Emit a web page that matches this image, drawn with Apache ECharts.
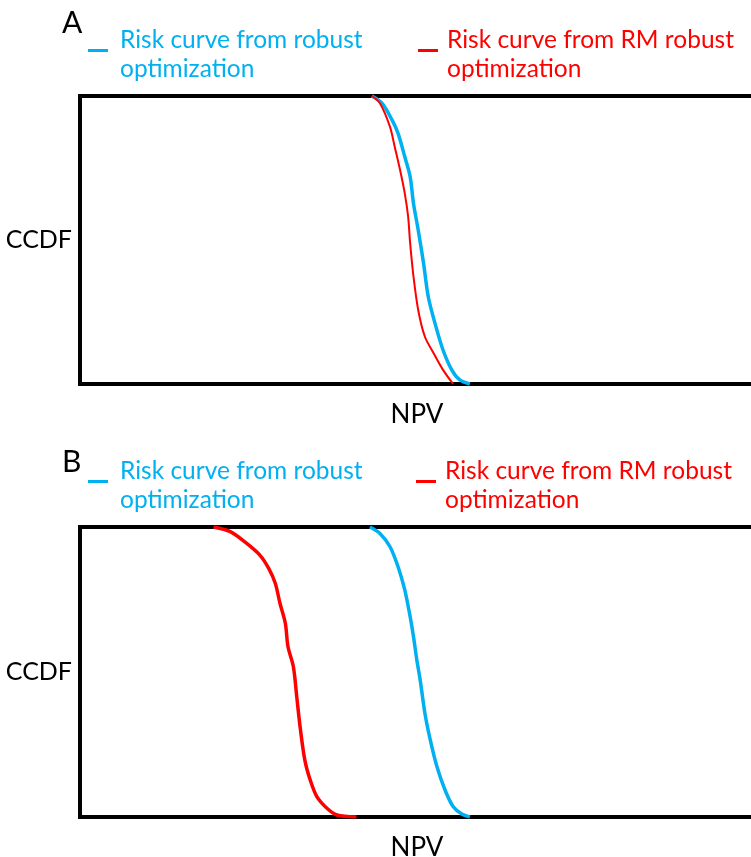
<!DOCTYPE html>
<html>
<head>
<meta charset="utf-8">
<script src="https://cdn.jsdelivr.net/npm/echarts@6/dist/echarts.min.js"></script>
<style>html,body{margin:0;padding:0;background:#fff;}#c{width:751px;height:857px;}</style>
</head>
<body>
<div id="c"></div>
<script>
// NPV in arbitrary units (0-100 across the plotted width), CCDF in [0,1]
const panelLabels = ['A', 'B'];
const seriesNames = ['Risk curve from robust optimization', 'Risk curve from RM robust optimization'];
const axisNames = { x: 'NPV', y: 'CCDF' };

// Panel A
const aRobustNPV  = [43.5, 45.0, 46.5, 47.4, 48.4, 49.2, 49.7, 50.4, 51.2, 51.9, 52.9, 54.1, 55.4, 56.6, 58.1];
const aRobustCCDF = [1.0, 0.975, 0.917, 0.870, 0.789, 0.720, 0.627, 0.535, 0.419, 0.303, 0.211, 0.118, 0.049, 0.014, 0.0];
const aRMNPV      = [43.5, 44.7, 46.2, 46.9, 47.7, 48.4, 48.9, 49.2, 49.7, 50.4, 51.4, 52.7, 54.1, 55.6];
const aRMCCDF     = [1.0, 0.975, 0.893, 0.824, 0.743, 0.662, 0.581, 0.489, 0.373, 0.257, 0.164, 0.107, 0.049, 0.0];

// Panel B
const bRobustNPV  = [43.2, 44.7, 46.2, 47.4, 48.4, 49.2, 49.7, 50.2, 50.7, 51.4, 52.2, 53.2, 54.4, 55.6, 56.9, 58.1];
const bRobustCCDF = [1.0, 0.978, 0.932, 0.863, 0.783, 0.691, 0.622, 0.541, 0.472, 0.358, 0.266, 0.173, 0.093, 0.036, 0.010, 0.0];
const bRMNPV      = [19.9, 22.4, 24.8, 26.8, 28.1, 29.1, 29.8, 30.6, 31.0, 31.8, 32.3, 32.8, 33.5, 34.3, 35.3, 36.8, 38.3, 41.2];
const bRMCCDF     = [1.0, 0.984, 0.944, 0.903, 0.858, 0.806, 0.737, 0.668, 0.587, 0.518, 0.415, 0.311, 0.197, 0.128, 0.070, 0.030, 0.007, 0.0];

const BLUE = '#00B0F0', RED = '#FF0000';
const FONT = 'Lato';

function pairs(xs, ys) { return xs.map((x, i) => [x, ys[i]]); }

const grids = [
  { left: 80, width: 700, top: 96, height: 288 },
  { left: 80, width: 700, top: 527, height: 290 }
].map(g => Object.assign(g, { show: true, borderColor: '#000', borderWidth: 4,
  backgroundColor: 'transparent', containLabel: false, outerBoundsMode: 'none' }));

const xAxes = [0, 1].map(i => ({
  gridIndex: i, type: 'value', min: 0, max: 104.32,
  axisLine: { show: false }, axisTick: { show: false }, axisLabel: { show: false }, splitLine: { show: false },
  name: axisNames.x, nameLocation: 'middle', nameGap: 18,
  nameTextStyle: { fontFamily: FONT, fontSize: 26, color: '#000', padding: [0, 26, 0, 0] }
}));
const yAxes = [0, 1].map(i => ({
  gridIndex: i, type: 'value', min: 0, max: 1,
  axisLine: { show: false }, axisTick: { show: false }, axisLabel: { show: false }, splitLine: { show: false },
  name: axisNames.y, nameLocation: 'middle', nameGap: 8, nameRotate: 0,
  nameTextStyle: { fontFamily: FONT, fontSize: 25, color: '#000', padding: [0, 0, 6, 0] }
}));

function line(name, idx, data, color, width) {
  return { name, type: 'line', xAxisIndex: idx, yAxisIndex: idx, data, color,
    showSymbol: false, smooth: 0.3, lineStyle: { color, width }, z: 3 };
}

const series = [
  line(seriesNames[0], 0, pairs(aRobustNPV, aRobustCCDF), BLUE, 3.5),
  line(seriesNames[1], 0, pairs(aRMNPV, aRMCCDF), RED, 2),
  line(seriesNames[0], 1, pairs(bRobustNPV, bRobustCCDF), BLUE, 3.5),
  line(seriesNames[1], 1, pairs(bRMNPV, bRMCCDF), RED, 3.5)
];

function legend(name, color, left, top, gap) {
  return {
    left, top, padding: 0, orient: 'horizontal',
    icon: 'path://M0,0H20V3H0Z M0,10.95H0.05V11H0Z', itemWidth: 20, itemHeight: 11,
    selectedMode: false,
    data: [{ name, itemStyle: { color }, textStyle: { color } }],
    formatter: n => n.replace(' optimization', '\noptimization'),
    textStyle: { fontFamily: FONT, fontSize: 24.5, lineHeight: 29.5, color, padding: [0, 0, 0, gap] }
  };
}

const option = {
  animation: false,
  backgroundColor: '#fff',
  title: [
    { text: panelLabels[0], left: 62, top: 8, padding: 0, textStyle: { fontFamily: FONT, fontSize: 30, fontWeight: 'normal', color: '#000' } },
    { text: panelLabels[1], left: 62, top: 447, padding: 0, textStyle: { fontFamily: FONT, fontSize: 30, fontWeight: 'normal', color: '#000' } }
  ],
  legend: [
    legend(seriesNames[0], BLUE, 88, 25, 7),
    legend(seriesNames[1], RED, 418, 25, 4),
    legend(seriesNames[0], BLUE, 88, 456, 7),
    legend(seriesNames[1], RED, 416, 456, 4)
  ],
  grid: grids,
  xAxis: xAxes,
  yAxis: yAxes,
  series
};

const chart = echarts.init(document.getElementById('c'), null, { renderer: 'canvas' });
chart.setOption(option);
</script>
</body>
</html>
